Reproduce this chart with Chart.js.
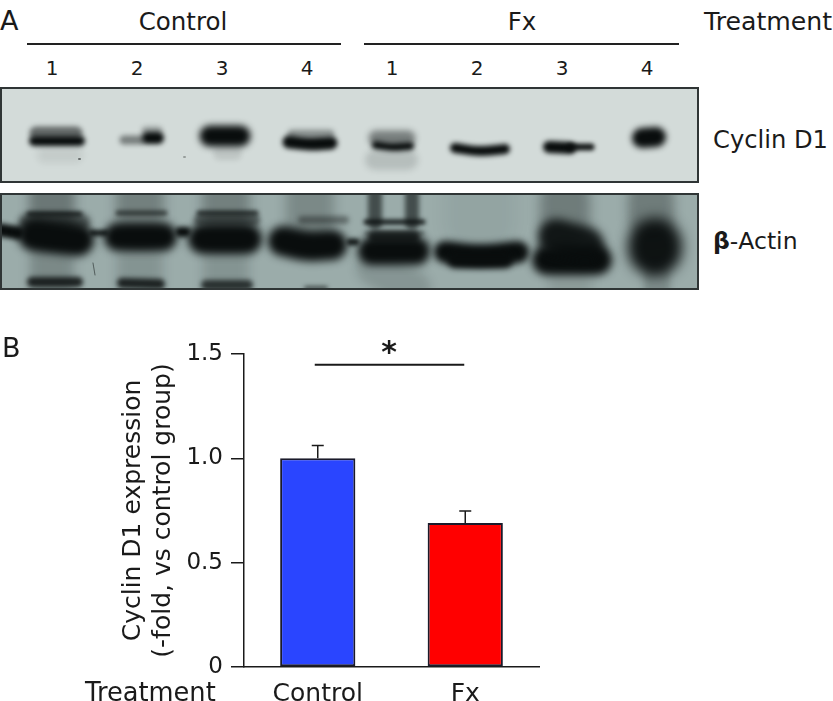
<!DOCTYPE html>
<html>
<head>
<meta charset="utf-8">
<script src="https://cdn.jsdelivr.net/npm/chart.js@4/dist/chart.umd.min.js"></script>
<style>
  body { margin: 0; background: #fff; overflow: hidden; font-family: "DejaVu Sans", sans-serif; color: #1a1a1a; }
  #page { position: relative; width: 833px; height: 701px; }
  canvas { position: absolute; }
  .lbl { position: absolute; white-space: nowrap; transform: translateY(-50%); }
  .rule { position: absolute; height: 2px; background: #222; }
</style>
</head>
<body>
<div id="page">
  <canvas id="cyclinBlot" width="699" height="96" style="left:0;top:87px"></canvas>
  <canvas id="actinBlot" width="699" height="97" style="left:0;top:193px"></canvas>
  <canvas id="barChart" width="833" height="371" style="left:0;top:330px"></canvas>
</div>
<script>
const groups = ['Control', 'Fx'];
const meanValues = [1.0, 0.69];
const errorValues = [0.062, 0.058];
const barColors = ['#2a45ff', '#ff0000'];
const yTicks = [0, 0.5, 1, 1.5];
const sigLevel = 1.448;

// blot bands: x along the gel, y down the gel, thickness, darkness 0-1
const cyclinBandX = [[36,76],[34,80],[45,75],[124,142],[146,158],[148,158],[210,240],[220,235],[292,330],[289,310,331],
  [376,408],[376,392,410],[375,408],[455,480,505],[549,570],[570,591],[642,656],[79,80],[184,185]];
const cyclinBandY = [[46,46],[54,54],[68,68],[53,53],[44,44],[51,51],[49,49],[66,66],[47,47],[55,57,56],
  [51,51],[58,60,59],[73,73],[61,64,62],[60,61],[60,60],[51,50],[72,72],[70,70]];
const cyclinBandThick = [13,10,16,9,9,12,21,14,9,13,15,8,20,10,12,7,20,2,2];
const cyclinBandDark = [.55,1,.07,.45,.3,1,1,.1,.35,1,.45,1,.14,1,1,.95,1,.5,.3];

const actinBandX = [[52,52],[52,52],[140,140],[140,140],[226,226],[226,226],[310,310],[375,375],[412,412],[375,412],[480,480],[565,565],[570,570],[651,651],[657,657],
  [29,80],[27,82],[118,165],[199,256],[200,254],[302,345],[366,423],[366,423],
  [0,18],[92,106],[180,186],[350,356],[34,78],[118,163],[203,247],[283,308,332],[374,414],[372,416],[445,480,518],[455,505],[547,597],[556,586],[655,655],
  [32,78],[122,160],[206,248],[306,326],[93,95]];
const actinBandY = [[0,30],[62,96],[0,30],[60,96],[0,30],[60,96],[0,30],[0,30],[0,30],[74,96],[6,30],[6,30],[72,96],[6,24],[82,96],
  [21,21],[29,29],[20,20],[20,20],[27,27],[27,27],[29,29],[40,40],
  [37,40],[40,40],[39,39],[49,49],[42,47],[44,44],[46,46],[48,53,52],[44,44],[58,58],[59,62,59],[67,67],[67,67],[44,52],[52,56],
  [89,89],[90,91],[92,92],[95,95],[70,82]];
const actinBandThick = [46,44,48,46,48,46,48,14,14,38,70,50,44,46,26,
  5,16,5,5,12,8,5,4,
  13,6,10,7,32,28,30,30,12,28,22,16,30,36,54,
  10,10,10,4,1];
const actinBandDark = [.33,.22,.28,.15,.28,.15,.22,.6,.6,.14,.05,.3,.1,.3,.2,
  .8,.55,.65,.75,.5,.4,.9,.45,
  1,.9,1,.9,1,1,1,1,.8,1,1,1,1,.92,.97,
  .85,.85,.75,.6,.5];

function bandDatasets(xs, ys, thick, dark) {
  return xs.map((x, i) => ({
    data: x.map((v, j) => ({ x: v, y: ys[i][j] })),
    showLine: true,
    pointRadius: 0,
    tension: 0.4,
    borderWidth: thick[i],
    borderCapStyle: 'round',
    borderColor: `rgba(9,13,13,${dark[i]})`,
    blur: thick[i] < 3 ? 0.6 : 1.8 + thick[i] * 0.08
  })).reverse();
}

const blotPlugin = {
  id: 'blot',
  beforeDatasetsDraw(chart, args, opts) {
    const ctx = chart.ctx;
    ctx.fillStyle = opts.background;
    ctx.fillRect(0, 0, chart.width, chart.height);
  },
  beforeDatasetDraw(chart, args) {
    chart.ctx.save();
    chart.ctx.filter = `blur(${chart.data.datasets[args.index].blur}px)`;
  },
  afterDatasetDraw(chart) {
    chart.ctx.restore();
  },
  afterDraw(chart) {
    const ctx = chart.ctx;
    ctx.strokeStyle = '#2f3535';
    ctx.lineWidth = 2;
    ctx.strokeRect(1, 1, chart.width - 2, chart.height - 2);
  }
};

function makeBlot(id, datasets, background, height) {
  return new Chart(document.getElementById(id), {
    type: 'scatter',
    data: { datasets },
    options: {
      responsive: false,
      animation: false,
      devicePixelRatio: 1,
      layout: { padding: 0 },
      scales: {
        x: { type: 'linear', min: 0, max: 699, display: false },
        y: { type: 'linear', min: 0, max: height, reverse: true, display: false }
      },
      plugins: { legend: { display: false }, tooltip: { enabled: false }, blot: { background } }
    },
    plugins: [blotPlugin]
  });
}

makeBlot('cyclinBlot', bandDatasets(cyclinBandX, cyclinBandY, cyclinBandThick, cyclinBandDark), '#d3dbd9', 96);
makeBlot('actinBlot', bandDatasets(actinBandX, actinBandY, actinBandThick, actinBandDark), '#9bacaa', 97);

const errorPlugin = {
  id: 'errorBars',
  afterDatasetsDraw(chart) {
    const ctx = chart.ctx, x = chart.scales.x, y = chart.scales.y;
    ctx.save();
    ctx.strokeStyle = '#1a1a1a';
    ctx.lineWidth = 1.5;
    meanValues.forEach((m, i) => {
      const px = x.getPixelForValue(i), top = y.getPixelForValue(m + errorValues[i]);
      ctx.beginPath();
      ctx.moveTo(px, y.getPixelForValue(m));
      ctx.lineTo(px, top);
      ctx.moveTo(px - 6, top);
      ctx.lineTo(px + 6, top);
      ctx.stroke();
    });
    // significance line and star
    const sy = y.getPixelForValue(sigLevel);
    ctx.lineWidth = 2;
    ctx.beginPath();
    ctx.moveTo(x.getPixelForValue(0) - 3, sy);
    ctx.lineTo(x.getPixelForValue(1) - 1, sy);
    ctx.stroke();
    ctx.fillStyle = '#1a1a1a';
    ctx.font = 'bold 30px "DejaVu Sans"';
    ctx.textAlign = 'center';
    ctx.textBaseline = 'middle';
    ctx.fillText('*', (x.getPixelForValue(0) + x.getPixelForValue(1)) / 2 - 2.5, sy - 11);
    ctx.restore();
  }
};

new Chart(document.getElementById('barChart'), {
  type: 'bar',
  data: {
    labels: groups,
    datasets: [{
      data: meanValues,
      backgroundColor: barColors,
      borderColor: '#1a1a2a',
      borderWidth: 2,
      borderSkipped: false,
      barPercentage: 0.51,
      categoryPercentage: 1
    }]
  },
  options: {
    responsive: false,
    animation: false,
    devicePixelRatio: 1,
    layout: { padding: { left: 118, right: 294, top: 24, bottom: 0 } },
    scales: {
      x: {
        grid: { display: false },
        border: { color: '#1a1a1a', width: 1.5 },
        ticks: { color: '#1a1a1a', font: { family: 'DejaVu Sans', size: 25 }, padding: 4, maxRotation: 0 },
        afterFit(axis) { axis.height = 34; }
      },
      y: {
        min: 0,
        max: 1.5,
        afterBuildTicks(axis) { axis.ticks = yTicks.map(value => ({ value })); },
        grid: { drawOnChartArea: false, tickLength: 13, color: '#1a1a1a', lineWidth: 1.5 },
        border: { color: '#1a1a1a', width: 1.5 },
        ticks: {
          color: '#1a1a1a',
          font: { family: 'DejaVu Sans', size: 23 },
          padding: 8,
          callback: v => v === 0 ? '0' : v.toFixed(1)
        },
        title: {
          display: true,
          text: ['Cyclin D1 expression', '(-fold, vs control group)'],
          color: '#1a1a1a',
          font: { family: 'DejaVu Sans', size: 25, lineHeight: 1.2 },
          padding: 0
        },
        afterFit(axis) { axis.width = 126; }
      }
    },
    plugins: { legend: { display: false }, tooltip: { enabled: false } }
  },
  plugins: [errorPlugin]
});

// text around the panels
const page = document.getElementById('page');
function put(html, x, y, size, align) {
  const d = document.createElement('div');
  d.className = 'lbl';
  d.innerHTML = html;
  d.style.top = y + 'px';
  d.style.fontSize = size + 'px';
  d.style.left = x + 'px';
  if (align === 'center') d.style.transform = 'translate(-50%,-50%)';
  page.appendChild(d);
}
function rule(x1, x2, y) {
  const d = document.createElement('div');
  d.className = 'rule';
  d.style.left = x1 + 'px';
  d.style.width = (x2 - x1) + 'px';
  d.style.top = y + 'px';
  page.appendChild(d);
}
const laneLabels = ['1', '2', '3', '4', '1', '2', '3', '4'];
const laneCentres = [52, 137, 222, 307, 392, 477, 562, 647];
put('A', 0, 20, 27);
put('B', 2, 347, 27);
put('Control', 183, 21, 24.5, 'center');
put('Fx', 522, 21, 24.5, 'center');
put('Treatment', 704, 21, 25.2);
put('Treatment', 85, 692, 25.7);
put('Cyclin D1', 713, 140, 24.2);
put('<b>β</b>-Actin', 713, 241, 23.5);
laneLabels.forEach((t, i) => put(t, laneCentres[i], 68, 20, 'center'));
rule(27, 341, 43);
rule(364, 679, 43);
</script>
</body>
</html>
